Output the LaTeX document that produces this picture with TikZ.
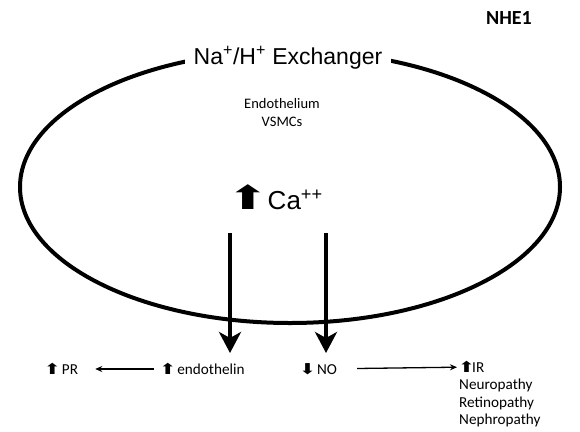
\documentclass[tikz,border=0pt]{standalone}
\usepackage{graphicx}
\usepackage{fontspec}
\setmainfont{Carlito}
\newfontfamily\arialfont{Liberation Sans}
\newfontfamily\arrowfont{DejaVu Sans}
\usetikzlibrary{arrows.meta}
\newcommand{\uparr}{\scalebox{1.35}[1]{\arrowfont\fontsize{15}{15}\selectfont ⬆}}
\newcommand{\downarr}{\scalebox{1.35}[1]{\arrowfont\fontsize{15}{15}\selectfont ⬇}}

\begin{document}
\begin{tikzpicture}[x=1pt, y=-1pt, >=Stealth,
    lbl/.style={font=\fontsize{15.2}{17.5}\selectfont, inner sep=1pt},
    bigarrow/.style={line width=4pt, -{Stealth[length=21pt,width=22pt,inset=6pt]}},
    thinarrow/.style={line width=1.3pt, -{Stealth[length=7pt,width=6pt]}}]
    \useasboundingbox (0,0) rectangle (580,431);

    % Cell outline
    \draw[line width=4pt] (290,187) ellipse [x radius=270, y radius=136];
    \node[fill=white, inner xsep=9pt, inner ysep=4pt,
          font=\arialfont\fontsize{23}{23}\selectfont] (title) at (288,58)
          {Na\textsuperscript{+}/H\textsuperscript{+} Exchanger};
    \node[font=\bfseries\fontsize{20}{20}\selectfont] (nhe) at (509,18) {NHE1};

    % Inside the cell
    \node[lbl, align=center, font=\fontsize{14.5}{18}\selectfont] (tissue) at (282,113)
          {Endothelium\\VSMCs};
    \node (ca) at (275,197)
          {\scalebox{1.5}[1]{\arrowfont\fontsize{33}{33}\selectfont ⬆}\kern-1pt{\arialfont\fontsize{26}{26}\selectfont Ca\textsuperscript{++}}};

    % Down arrows
    \coordinate (endotop) at (230,233);
    \coordinate (endotip) at (230,353);
    \coordinate (notop) at (326,233);
    \coordinate (notip) at (326,353);
    \draw[bigarrow] (endotop) -- (endotip);
    \draw[bigarrow] (notop) -- (notip);

    % Effects
    \node[lbl] (pr) at (61,369) {\uparr\kern1pt PR};
    \node[lbl] (endo) at (202,369) {\uparr\kern1pt endothelin};
    \node[lbl] (no) at (318,369) {\downarr\kern1pt NO};
    \node[lbl, anchor=west] (ir) at (457,367) {\uparr\kern-3pt IR};
    \node[lbl, anchor=north west, align=left] (ills) at (458,378)
          {Neuropathy\\Retinopathy\\Nephropathy};
    \draw[thinarrow, shorten <=4pt, shorten >=16pt] (endo) -- (pr);
    \draw[thinarrow, shorten <=19pt] (no) -- (ir);
\end{tikzpicture}
\end{document}
